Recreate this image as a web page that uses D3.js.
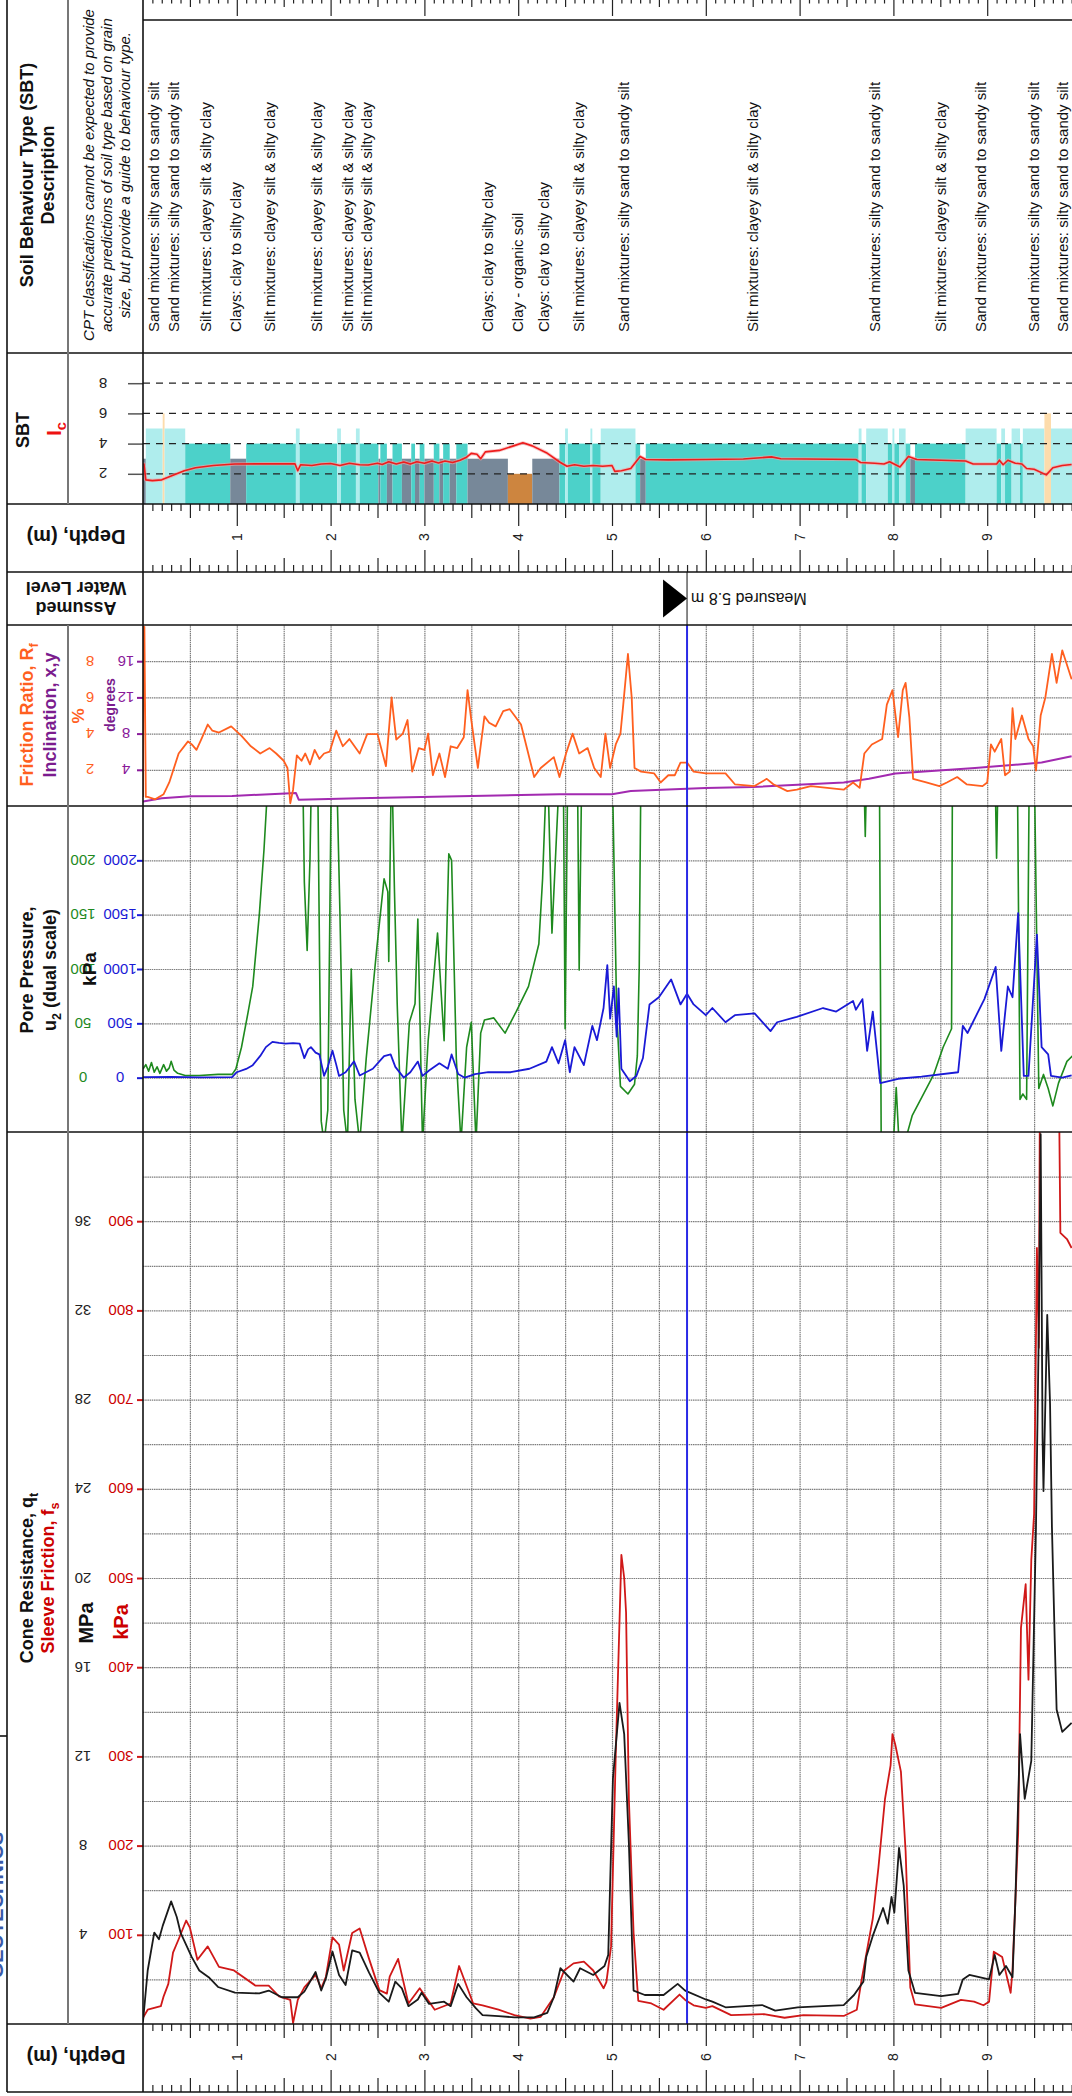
<!DOCTYPE html>
<html>
<head>
  <meta charset="utf-8">
  <title>CPT log</title>
  <script src="https://d3js.org/d3.v7.min.js"></script>
  <style>
    body { margin: 0; background: #fff; }
    svg { display: block; font-family: "Liberation Sans", Arial, sans-serif; }
    .grid line { stroke: #7c7c7c; stroke-width: 1.2; stroke-dasharray: 1.5 0.7; }
    .grid .domain { display: none; }
    .ruler line { stroke: #222; stroke-width: 1.2; }
    .ruler .domain { display: none; }
  </style>
</head>
<body>
<svg id="chart"></svg>
<script>
// ---- data (depth in m) ----
const depthTicks = [1, 2, 3, 4, 5, 6, 7, 8, 9];
const waterDepth = 5.8;

// SBT layers: [from, to, zone]
const sbtLayers = [
  [0, 0.03, 3], [0.03, 0.21, 5], [0.21, 0.23, 6], [0.23, 0.45, 5], [0.45, 0.93, 4], [0.93, 1.10, 3],
  [1.10, 1.63, 4], [1.63, 1.67, 5], [1.67, 2.07, 4], [2.07, 2.11, 5], [2.11, 2.27, 4], [2.27, 2.31, 5],
  [2.31, 2.51, 4], [2.51, 2.53, 3], [2.53, 2.60, 4], [2.60, 2.66, 3], [2.66, 2.76, 4], [2.76, 2.86, 3],
  [2.86, 2.90, 4], [2.90, 2.95, 3], [2.95, 3.00, 4], [3.00, 3.10, 3], [3.10, 3.16, 4], [3.16, 3.20, 3],
  [3.20, 3.27, 4], [3.27, 3.34, 3], [3.34, 3.46, 4], [3.46, 3.89, 3], [3.89, 4.15, 2], [4.15, 4.44, 3],
  [4.44, 4.50, 4], [4.50, 4.53, 5], [4.53, 4.77, 4], [4.77, 4.79, 5], [4.79, 4.88, 4], [4.88, 5.25, 5],
  [5.25, 5.30, 4], [5.30, 5.36, 3], [5.36, 7.63, 4], [7.63, 7.66, 5], [7.66, 7.71, 4], [7.71, 7.94, 5],
  [7.94, 7.99, 4], [7.99, 8.01, 5], [8.01, 8.06, 4], [8.06, 8.13, 5], [8.13, 8.18, 4], [8.18, 8.23, 3],
  [8.23, 8.77, 4], [8.77, 9.10, 5], [9.10, 9.15, 4], [9.15, 9.19, 5], [9.19, 9.26, 4], [9.26, 9.35, 5],
  [9.35, 9.38, 4], [9.38, 9.61, 5], [9.61, 9.68, 6], [9.68, 9.91, 5]
];
const sbtTicks = [2, 4, 6, 8];

const sandText = "Sand mixtures: silty sand to sandy silt";
const siltText = "Silt mixtures: clayey silt & silty clay";
const clayText = "Clays: clay to silty clay";
const sbtLabels = [
  [0.107, sandText], [0.33, sandText], [0.67, siltText], [0.99, clayText], [1.35, siltText],
  [1.855, siltText], [2.175, siltText], [2.38, siltText], [3.67, clayText], [3.99, "Clay - organic soil"],
  [4.275, clayText], [4.64, siltText], [5.12, sandText], [6.5, siltText], [7.8, sandText],
  [8.5, siltText], [8.93, sandText], [9.49, sandText], [9.80, sandText]
];

// Ic index
const ic = [
  [0, 2.6], [0.01, 2.65], [0.03, 1.6], [0.1, 1.55], [0.2, 1.6], [0.3, 1.85], [0.44, 2.2], [0.56, 2.4],
  [0.75, 2.55], [0.98, 2.65], [1.3, 2.66], [1.62, 2.67], [1.65, 2.2], [1.68, 2.6], [1.8, 2.55], [1.9, 2.65],
  [2.0, 2.68], [2.1, 2.55], [2.2, 2.7], [2.31, 2.6], [2.4, 2.58], [2.5, 2.7], [2.55, 2.62], [2.62, 2.8],
  [2.7, 2.65], [2.78, 2.78], [2.85, 2.65], [2.92, 2.8], [3.0, 2.7], [3.08, 2.85], [3.15, 2.72], [3.22, 2.85],
  [3.3, 2.75], [3.38, 2.9], [3.45, 3.1], [3.5, 3.35], [3.56, 3.3], [3.6, 3.0], [3.65, 3.45], [3.8, 3.55],
  [3.95, 3.85], [4.05, 4.05], [4.15, 3.85], [4.3, 3.4], [4.45, 2.75], [4.52, 2.5], [4.6, 2.6], [4.7, 2.5],
  [4.8, 2.55], [4.9, 2.5], [5.0, 2.55], [5.03, 2.16], [5.1, 2.2], [5.2, 2.35], [5.3, 3.15], [5.36, 2.95],
  [5.6, 2.92], [6.0, 2.95], [6.4, 2.98], [6.7, 3.12], [6.8, 3.0], [7.6, 2.95], [7.65, 2.75], [7.8, 2.7],
  [7.9, 2.65], [7.96, 2.8], [8.07, 2.45], [8.16, 3.15], [8.25, 2.95], [8.77, 2.85], [8.85, 2.65], [9.1, 2.65],
  [9.13, 2.9], [9.17, 2.6], [9.22, 2.9], [9.3, 2.7], [9.37, 2.65], [9.42, 2.35], [9.5, 2.3], [9.63, 1.93],
  [9.7, 2.4], [9.8, 2.55], [9.9, 2.62]
];

// friction ratio (%) and inclination (degrees)
const rfTicks = [2, 4, 6, 8];
const incTicks = [4, 8, 12, 16];
const rf = [
  [0, 0.5], [0.005, 9.9], [0.015, 9.9], [0.03, 0.5], [0.05, 0.5], [0.13, 0.37], [0.22, 0.65], [0.28, 1.3],
  [0.38, 2.9], [0.48, 3.57], [0.52, 3.4], [0.57, 3.1], [0.62, 3.67], [0.69, 4.5], [0.74, 4.16], [0.81, 4.06],
  [0.94, 4.4], [1.05, 3.87], [1.15, 3.3], [1.25, 2.9], [1.35, 3.2], [1.42, 2.9], [1.5, 2.5], [1.54, 2.1],
  [1.57, 0.15], [1.6, 0.9], [1.64, 2.8], [1.69, 2.5], [1.73, 2.9], [1.78, 2.3], [1.83, 3.1], [1.88, 2.6],
  [1.93, 2.9], [1.99, 3.0], [2.06, 4.16], [2.13, 3.3], [2.2, 3.7], [2.31, 2.9], [2.39, 3.97], [2.5, 3.97],
  [2.59, 2.2], [2.65, 6.0], [2.7, 3.67], [2.77, 4.0], [2.82, 4.75], [2.87, 1.9], [2.94, 3.2], [3.0, 3.1],
  [3.04, 4.0], [3.09, 1.7], [3.16, 2.9], [3.22, 1.6], [3.28, 3.3], [3.35, 3.2], [3.42, 3.8], [3.46, 6.4],
  [3.5, 4.75], [3.57, 2.1], [3.64, 4.95], [3.69, 4.6], [3.76, 4.4], [3.84, 5.24], [3.91, 5.35], [3.96, 5.0],
  [4.03, 4.5], [4.17, 1.6], [4.24, 2.1], [4.38, 2.7], [4.44, 1.6], [4.51, 2.9], [4.58, 4.0], [4.65, 2.9],
  [4.74, 3.2], [4.81, 2.1], [4.88, 1.6], [4.93, 4.0], [4.98, 2.1], [5.04, 3.4], [5.09, 4.0], [5.12, 5.6],
  [5.17, 8.4], [5.21, 6.0], [5.24, 2.1], [5.31, 1.9], [5.45, 1.8], [5.52, 1.3], [5.6, 1.7], [5.67, 1.7],
  [5.73, 2.4], [5.8, 2.4], [5.87, 1.9], [6.0, 1.8], [6.21, 1.8], [6.31, 1.2], [6.52, 1.1], [6.65, 1.5],
  [6.72, 1.2], [6.87, 0.82], [6.97, 0.9], [7.12, 1.1], [7.47, 0.9], [7.57, 1.3], [7.64, 1.0], [7.69, 2.9],
  [7.77, 3.4], [7.88, 3.7], [7.93, 5.6], [7.99, 6.4], [8.05, 3.8], [8.1, 6.4], [8.13, 6.8], [8.17, 4.9],
  [8.21, 1.5], [8.35, 1.3], [8.49, 1.1], [8.57, 1.3], [8.68, 1.6], [8.78, 1.2], [8.95, 1.1], [9.0, 1.3],
  [9.04, 3.4], [9.08, 3.0], [9.15, 3.7], [9.19, 1.7], [9.24, 1.9], [9.27, 5.4], [9.3, 3.7], [9.37, 5.0],
  [9.44, 3.7], [9.49, 3.3], [9.52, 1.95], [9.57, 5.0], [9.62, 6.0], [9.69, 8.4], [9.74, 6.8], [9.8, 8.6],
  [9.9, 7.0]
];
const incl = [
  [0, 0.5], [0.2, 0.85], [0.5, 1.07], [0.95, 1.1], [1.63, 1.45], [1.66, 0.7], [2.3, 0.85], [3.37, 1.07],
  [4.44, 1.3], [5.0, 1.3], [5.2, 1.65], [6.0, 2.0], [6.5, 2.1], [7.47, 2.6], [7.74, 3.0], [8.02, 3.6],
  [8.87, 4.2], [9.58, 4.8], [9.9, 5.5]
];

// pore pressure u2 (kPa): blue large scale, green small scale
const u2Ticks = [0, 500, 1000, 1500, 2000];
const u2SmallTicks = [0, 50, 100, 150, 200];
const u2 = [
  [0, 5], [0.3, 8], [0.6, 3], [0.95, 5], [1.0, 50], [1.1, 80], [1.17, 115], [1.25, 200], [1.31, 281],
  [1.38, 329], [1.45, 320], [1.52, 314], [1.6, 318], [1.67, 314], [1.72, 180], [1.76, 260], [1.79, 281],
  [1.84, 230], [1.88, 214], [1.93, 16], [1.97, 100], [2.02, 248], [2.06, 120], [2.09, 16], [2.16, 50],
  [2.25, 150], [2.31, 20], [2.45, 82], [2.57, 198], [2.64, 214], [2.69, 99], [2.78, 0], [2.85, 50],
  [2.93, 148], [2.98, 16], [3.05, 66], [3.16, 132], [3.25, 82], [3.29, 214], [3.36, 33], [3.43, 0],
  [3.54, 33], [3.68, 50], [3.92, 50], [4.12, 82], [4.3, 148], [4.36, 281], [4.43, 132], [4.5, 345],
  [4.55, 50], [4.6, 281], [4.7, 115], [4.79, 477], [4.84, 345], [4.91, 641], [4.95, 1036], [4.98, 543],
  [5.02, 839], [5.05, 378], [5.07, 822], [5.1, 82], [5.19, -33], [5.26, 16], [5.33, 181], [5.4, 674],
  [5.5, 740], [5.63, 904], [5.73, 674], [5.8, 773], [5.87, 674], [6.0, 575], [6.07, 641], [6.21, 510],
  [6.31, 575], [6.52, 592], [6.69, 428], [6.76, 510], [6.97, 560], [7.25, 641], [7.39, 608], [7.57, 706],
  [7.6, 625], [7.67, 723], [7.72, 247], [7.78, 608], [7.86, -50], [8.05, -10], [8.3, 10], [8.69, 50],
  [8.74, 477], [8.79, 411], [8.97, 723], [9.09, 1019], [9.15, 247], [9.22, 839], [9.27, 740], [9.33, 1515],
  [9.39, 16], [9.44, 16], [9.53, 1316], [9.58, 281], [9.65, 214], [9.68, 16], [9.8, 0], [9.9, 20]
];
const u2Small = [
  [0, 8], [0.03, 12], [0.06, 6], [0.09, 14], [0.12, 5], [0.15, 10], [0.18, 4], [0.22, 12], [0.25, 6],
  [0.28, 9], [0.3, 15], [0.33, 7], [0.37, 4], [0.45, 2], [0.6, 2], [0.8, 3], [0.95, 3], [0.99, 8],
  [1.05, 28], [1.12, 60], [1.17, 84], [1.24, 150], [1.29, 210], [1.33, 270], [1.70, 300], [1.72, 180],
  [1.75, 117], [1.78, 200], [1.80, 300], [1.86, 300], [1.90, -40], [1.93, -60], [1.97, -30], [2.01, 300],
  [2.06, 300], [2.10, 150], [2.14, -30], [2.18, -60], [2.22, 100], [2.26, -20], [2.31, -60], [2.38, 18],
  [2.49, 117], [2.57, 183], [2.61, 171], [2.62, 107], [2.65, 300], [2.68, 175], [2.71, 68], [2.76, -60],
  [2.84, 51], [2.9, 68], [2.93, 146], [2.98, -60], [3.04, 34], [3.14, 133], [3.21, 34], [3.26, 206],
  [3.29, 200], [3.34, 18], [3.39, -60], [3.45, 28], [3.5, 51], [3.55, -60], [3.6, 41], [3.64, 53],
  [3.74, 55], [3.86, 41], [3.98, 61], [4.11, 84], [4.22, 123], [4.26, 183], [4.31, 300], [4.36, 133],
  [4.4, 207], [4.45, 300], [4.48, 300], [4.5, 45], [4.53, 300], [4.63, 300], [4.65, 99], [4.68, 300],
  [5.0, 300], [5.05, 60], [5.09, -8], [5.17, -15], [5.24, -6], [5.27, 20], [5.29, 100], [5.31, 300],
  [7.68, 300], [7.70, 222], [7.72, 300], [7.85, 300], [7.87, -60], [8.0, -60], [8.03, -9], [8.06, -60],
  [8.12, -60], [8.2, -35], [8.4, -2], [8.43, 3], [8.53, 28], [8.62, 45], [8.63, 300], [9.08, 300],
  [9.10, 202], [9.12, 300], [9.32, 300], [9.35, -20], [9.38, -15], [9.42, -20], [9.45, 300], [9.5, 300],
  [9.55, -10], [9.6, 3], [9.65, -10], [9.7, -26], [9.76, -5], [9.85, 15], [9.91, 20]
];

// cone resistance qt (MPa) and sleeve friction fs (kPa)
const qtTicks = [4, 8, 12, 16, 20, 24, 28, 32, 36];
const fsTicks = [100, 200, 300, 400, 500, 600, 700, 800, 900];
const qt = [
  [0, 0.1], [0.05, 2.4], [0.12, 4.1], [0.17, 3.8], [0.21, 4.4], [0.3, 5.5], [0.36, 4.8], [0.4, 4.1],
  [0.52, 3.0], [0.6, 2.4], [0.7, 2.1], [0.8, 1.66], [0.98, 1.41], [1.24, 1.37], [1.34, 1.5], [1.48, 1.2],
  [1.65, 1.2], [1.72, 1.45], [1.84, 2.33], [1.9, 1.5], [1.95, 2.05], [2.02, 3.25], [2.09, 2.2], [2.16, 1.75],
  [2.23, 3.3], [2.31, 3.2], [2.41, 2.3], [2.52, 1.4], [2.62, 1.0], [2.69, 1.9], [2.76, 1.6], [2.83, 0.8],
  [2.93, 1.1], [2.97, 1.4], [3.05, 0.9], [3.21, 1.0], [3.28, 0.8], [3.36, 1.8], [3.45, 1.2], [3.55, 0.7],
  [3.62, 0.4], [3.79, 0.35], [3.96, 0.3], [4.17, 0.3], [4.31, 0.5], [4.38, 1.2], [4.45, 2.5], [4.59, 1.9],
  [4.66, 2.5], [4.8, 2.2], [4.92, 2.6], [4.96, 3.1], [5.01, 11.0], [5.08, 14.4], [5.13, 13.0], [5.18, 8.1],
  [5.23, 1.5], [5.35, 1.3], [5.55, 1.3], [5.7, 1.8], [5.78, 1.5], [6.0, 1.1], [6.07, 1.0], [6.21, 0.75],
  [6.6, 0.85], [6.74, 0.6], [6.98, 0.75], [7.47, 0.85], [7.58, 1.3], [7.68, 1.9], [7.71, 3.0], [7.78, 3.95],
  [7.89, 5.2], [7.94, 4.5], [7.98, 5.7], [8.01, 5.0], [8.06, 7.9], [8.11, 6.2], [8.16, 2.4], [8.23, 1.4],
  [8.51, 1.25], [8.69, 1.35], [8.74, 2.0], [8.81, 2.2], [9.02, 2.0], [9.08, 3.1], [9.13, 2.2], [9.2, 2.6],
  [9.27, 2.1], [9.3, 5.5], [9.35, 13.0], [9.4, 10.1], [9.47, 11.8], [9.52, 22.3], [9.55, 31.1], [9.57, 39.9],
  [9.59, 26.3], [9.6, 23.9], [9.64, 31.8], [9.67, 27.8], [9.69, 22.3], [9.72, 17.2], [9.74, 14.1], [9.8, 13.1],
  [9.9, 13.5]
];
const fs = [
  [0, 7], [0.05, 16], [0.19, 20], [0.22, 31], [0.27, 45], [0.32, 80], [0.38, 95], [0.46, 116], [0.5, 108],
  [0.58, 72], [0.69, 87], [0.81, 64], [0.97, 60], [1.2, 43], [1.34, 43], [1.45, 31], [1.57, 27], [1.6, 1],
  [1.65, 27], [1.72, 41], [1.84, 55], [1.9, 40], [1.95, 53], [2.02, 97], [2.09, 89], [2.14, 60], [2.23, 102],
  [2.31, 107], [2.41, 73], [2.52, 38], [2.6, 34], [2.63, 53], [2.72, 73], [2.83, 23], [2.95, 40], [3.11, 16],
  [3.28, 23], [3.37, 65], [3.52, 23], [3.62, 21], [3.79, 16], [3.96, 10], [4.13, 6], [4.24, 8], [4.38, 30],
  [4.49, 60], [4.59, 68], [4.7, 70], [4.8, 60], [4.91, 40], [4.94, 47], [4.99, 87], [5.04, 302], [5.1, 526],
  [5.13, 500], [5.15, 461], [5.18, 252], [5.23, 102], [5.28, 26], [5.42, 23], [5.55, 16], [5.72, 33],
  [5.78, 27], [5.87, 21], [6.0, 18], [6.07, 20], [6.27, 10], [6.62, 11], [6.84, 7], [7.04, 10], [7.47, 9],
  [7.61, 16], [7.66, 49], [7.78, 118], [7.84, 175], [7.91, 252], [7.97, 290], [7.99, 325], [8.02, 313],
  [8.08, 283], [8.13, 194], [8.18, 41], [8.23, 22], [8.51, 18], [8.72, 27], [8.86, 25], [8.96, 21],
  [9.02, 25], [9.07, 81], [9.16, 75], [9.25, 35], [9.27, 61], [9.33, 214], [9.36, 444], [9.41, 493],
  [9.44, 386], [9.47, 520], [9.5, 572], [9.53, 870], [9.55, 758], [9.56, 1000], [9.58, 1100], [9.76, 1100],
  [9.78, 887], [9.85, 880], [9.9, 870]
];

// ---- layout ----
const width = 1072, height = 2096;
const colLeft = 7, colMid = 68, plotLeft = 143;
const rows = {
  desc: [20, 353], sbt: [353, 504], depthA: [504, 572], water: [572, 625],
  fric: [625, 806], pore: [806, 1132], cone: [1132, 2024], depthB: [2024, 2092]
};

const svg = d3.select("#chart").attr("width", width).attr("height", height);
const defs = svg.append("defs");

const x = d3.scaleLinear().domain([0, 9.904]).range([plotLeft, width]);
const ySbt = d3.scaleLinear().domain([0, 10]).range(rows.sbt.slice().reverse());
const yRf = d3.scaleLinear().domain([0, 10]).range(rows.fric.slice().reverse());
const yInc = d3.scaleLinear().domain([0, 20]).range(rows.fric.slice().reverse());
const yU = d3.scaleLinear().domain([-500, 2500]).range(rows.pore.slice().reverse());
const yUs = d3.scaleLinear().domain([-50, 250]).range(rows.pore.slice().reverse());
const yFs = d3.scaleLinear().domain([0, 1000]).range(rows.cone.slice().reverse());
const yQt = d3.scaleLinear().domain([0, 40]).range(rows.cone.slice().reverse());

const zoneColor = d3.scaleOrdinal()
  .domain([2, 3, 4, 5, 6])
  .range(["#cd853f", "#778899", "#4cd1c9", "#afeded", "#fddcac"]);

// clip paths for each plot panel
Object.entries(rows).forEach(([k, r]) => {
  defs.append("clipPath").attr("id", "clip-" + k)
    .append("rect").attr("x", plotLeft).attr("y", r[0])
    .attr("width", width - plotLeft).attr("height", r[1] - r[0]);
});

// rotated text helper
function label(g, cx, cy, angle, str, opts = {}) {
  const t = g.append("text")
    .attr("transform", `translate(${cx},${cy}) rotate(${angle})`)
    .attr("text-anchor", opts.anchor || "middle")
    .attr("dominant-baseline", "central")
    .attr("font-size", opts.size || 14)
    .attr("font-weight", opts.weight || "normal")
    .attr("font-style", opts.style || "normal")
    .attr("fill", opts.fill || "#111");
  if (Array.isArray(str)) {
    str.forEach(([s, sub]) => {
      const ts = t.append("tspan").text(s);
      if (sub) ts.attr("baseline-shift", "sub").attr("font-size", (opts.size || 14) * 0.7);
    });
  } else {
    t.text(str);
  }
  return t;
}

// ---- grid lines ----
const halfMetres = d3.range(1, 20).map(i => i / 2);
function vGrid(r) {
  svg.append("g").attr("class", "grid")
    .attr("transform", `translate(0,${r[1]})`)
    .call(d3.axisBottom(x).tickValues(halfMetres).tickSize(-(r[1] - r[0])).tickFormat(""));
}
function hGrid(scale, values) {
  svg.append("g").attr("class", "grid")
    .attr("transform", `translate(${plotLeft},0)`)
    .call(d3.axisLeft(scale).tickValues(values).tickSize(-(width - plotLeft)).tickFormat(""));
}
vGrid(rows.fric); vGrid(rows.pore); vGrid(rows.cone);
hGrid(yInc, incTicks);
hGrid(yU, u2Ticks);
hGrid(yFs, d3.range(50, 1000, 50));

// ---- SBT bars ----
const sbtG = svg.append("g").attr("clip-path", "url(#clip-sbt)");
sbtG.selectAll("rect").data(sbtLayers).join("rect")
  .attr("x", d => x(d[0]))
  .attr("width", d => Math.max(1, x(d[1]) - x(d[0])))
  .attr("y", d => ySbt(d[2]))
  .attr("height", d => ySbt(0) - ySbt(d[2]))
  .attr("fill", d => zoneColor(d[2]));

// dashed Ic reference lines and ticks
sbtTicks.forEach(v => {
  svg.append("line").attr("x1", plotLeft).attr("x2", width)
    .attr("y1", ySbt(v)).attr("y2", ySbt(v))
    .attr("stroke", "#222").attr("stroke-width", 1.2).attr("stroke-dasharray", "7 6");
});
svg.append("g").attr("transform", `translate(${plotLeft},0)`)
  .call(d3.axisLeft(ySbt).tickValues(sbtTicks).tickSize(15).tickFormat(""))
  .call(g => g.select(".domain").remove())
  .call(g => g.selectAll("line").attr("stroke", "#555").attr("stroke-width", 1.5));
sbtTicks.forEach(v => label(svg, 103, ySbt(v), 180, v, { size: 15, fill: "#222" }));

const line = yScale => d3.line().x(d => x(d[0])).y(d => yScale(d[1]));
function drawCurve(data, yScale, clip, color, w) {
  return svg.append("path").datum(data)
    .attr("clip-path", `url(#clip-${clip})`)
    .attr("fill", "none").attr("stroke", color).attr("stroke-width", w)
    .attr("stroke-linejoin", "round")
    .attr("d", line(yScale));
}
drawCurve(ic, ySbt, "sbt", "#f7a3a3", 3.5).attr("opacity", 0.6);
drawCurve(ic, ySbt, "sbt", "#ee1c1c", 1.6);

// SBT descriptions
sbtLabels.forEach(([d, s]) => label(svg, x(d), 332, -90, s, { anchor: "start", size: 15 }));

// ---- friction ratio / inclination ----
drawCurve(incl, yInc, "fric", "#a22ab0", 2);
drawCurve(rf, yRf, "fric", "#ff5f1f", 1.8);
svg.append("g").attr("transform", `translate(${plotLeft},0)`)
  .call(d3.axisLeft(yInc).tickValues(incTicks).tickSize(6).tickFormat(""))
  .call(g => g.select(".domain").remove())
  .call(g => g.selectAll("line").attr("stroke", "#8a1a9a").attr("stroke-width", 2));
rfTicks.forEach(v => label(svg, 90, yRf(v), 180, v, { size: 15, fill: "#ff5f1f" }));
incTicks.forEach(v => label(svg, 126, yInc(v), 180, v, { size: 15, fill: "#8a1a9a" }));

// ---- pore pressure ----
drawCurve(u2Small, yUs, "pore", "#1e8a1e", 1.6);
drawCurve(u2, yU, "pore", "#1a1ad6", 1.8);
svg.append("g").attr("transform", `translate(${plotLeft},0)`)
  .call(d3.axisLeft(yU).tickValues(u2Ticks).tickSize(6).tickFormat(""))
  .call(g => g.select(".domain").remove())
  .call(g => g.selectAll("line").attr("stroke", "#1a1ad6").attr("stroke-width", 2));
u2Ticks.forEach(v => label(svg, 120, yU(v), 180, v, { size: 15, fill: "#1a1ad6" }));
u2SmallTicks.forEach(v => label(svg, 83, yUs(v), 180, v, { size: 15, fill: "#1e8a1e" }));

// ---- cone resistance / sleeve friction ----
drawCurve(fs, yFs, "cone", "#d01818", 1.8);
drawCurve(qt, yQt, "cone", "#1a1a1a", 1.8);
svg.append("g").attr("transform", `translate(${plotLeft},0)`)
  .call(d3.axisLeft(yFs).tickValues(fsTicks).tickSize(6).tickFormat(""))
  .call(g => g.select(".domain").remove())
  .call(g => g.selectAll("line").attr("stroke", "#d01818").attr("stroke-width", 2));
fsTicks.forEach(v => label(svg, 121, yFs(v), 180, v, { size: 15, fill: "#cc0000" }));
qtTicks.forEach(v => label(svg, 83, yQt(v), 180, v, { size: 15, fill: "#222" }));

// ---- water level ----
const xw = x(waterDepth);
svg.append("line").attr("x1", xw).attr("x2", xw).attr("y1", rows.fric[0]).attr("y2", rows.cone[1])
  .attr("stroke", "#2a2ae6").attr("stroke-width", 2);
svg.append("line").attr("x1", xw).attr("x2", xw).attr("y1", rows.water[0]).attr("y2", rows.water[1])
  .attr("stroke", "#111").attr("stroke-width", 1);
const wy = (rows.water[0] + rows.water[1]) / 2;
svg.append("path")
  .attr("d", `M${xw},${wy}L${xw - 24},${wy - 19}L${xw - 24},${wy + 19}Z`)
  .attr("fill", "#000");
label(svg, xw + 4, wy, 180, "Measured " + waterDepth + " m", { anchor: "end", size: 16 });

// ---- depth rulers ----
const tenths = d3.range(1, 100).map(i => i / 10);
const minorT = tenths.filter((d, i) => (i + 1) % 5 !== 0);
const halfT = tenths.filter((d, i) => (i + 1) % 10 === 5);
const metreT = tenths.filter((d, i) => (i + 1) % 10 === 0);
function ruler(yTop, yBot, sizes) {
  [[minorT, sizes[0]], [halfT, sizes[1]], [metreT, sizes[2]]].forEach(([vals, s]) => {
    if (yTop !== null) {
      svg.append("g").attr("class", "ruler").attr("transform", `translate(0,${yTop})`)
        .call(d3.axisBottom(x).tickValues(vals).tickSize(s).tickFormat(""));
    }
    if (yBot !== null) {
      svg.append("g").attr("class", "ruler").attr("transform", `translate(0,${yBot})`)
        .call(d3.axisTop(x).tickValues(vals).tickSize(s).tickFormat(""));
    }
  });
}
ruler(0, null, [3.5, 7, 16]);
ruler(rows.depthA[0], rows.depthA[1], [7, 14, 22]);
ruler(rows.depthB[0], rows.depthB[1], [7, 14, 22]);
depthTicks.forEach(d => {
  label(svg, x(d), 537, -90, d, { size: 14, fill: "#222" });
  label(svg, x(d), 2057, -90, d, { size: 14, fill: "#222" });
});

// ---- frame ----
const frame = svg.append("g").attr("stroke", "#111").attr("stroke-width", 1.6);
frame.append("line").attr("x1", plotLeft).attr("x2", width).attr("y1", 20).attr("y2", 20);
[353, 504, 572, 625, 806, 1132, 2024, 2092].forEach(y => {
  frame.append("line").attr("x1", colLeft).attr("x2", width).attr("y1", y).attr("y2", y);
});
frame.append("line").attr("x1", colLeft).attr("x2", colLeft).attr("y1", 0).attr("y2", 2092);
frame.append("line").attr("x1", plotLeft).attr("x2", plotLeft).attr("y1", 0).attr("y2", 2092);
frame.append("line").attr("x1", 0).attr("x2", colLeft).attr("y1", 1736).attr("y2", 1736);
const inner = svg.append("g").attr("stroke", "#777").attr("stroke-width", 2);
inner.append("line").attr("x1", colMid).attr("x2", colMid).attr("y1", 0).attr("y2", 504);
inner.append("line").attr("x1", colMid).attr("x2", colMid).attr("y1", 625).attr("y2", 2024);

// cut-off logo text at the left edge
label(svg, -4, 1905, -90, "GEOTECHNICS", { size: 20, weight: "bold", fill: "#3a5aa8" });

// ---- header texts ----
label(svg, 27, 175, -90, "Soil Behaviour Type  (SBT)", { size: 18, weight: "bold" });
label(svg, 48, 175, -90, "Description", { size: 18, weight: "bold" });
label(svg, 88, 175, -90, "CPT classifications cannot be expected to provide", { size: 15, style: "italic" });
label(svg, 106, 175, -90, "accurate predictions of soil type based on grain", { size: 15, style: "italic" });
label(svg, 124, 175, -90, "size, but provide a guide to behaviour type.", { size: 15, style: "italic" });

label(svg, 23, 430, -90, "SBT", { size: 18, weight: "bold" });
label(svg, 53, 429, -90, [["I"], ["c", true]], { size: 21, weight: "bold", fill: "#ee1111" });

label(svg, 76, 537, 180, "Depth, (m)", { size: 20, weight: "bold" });
label(svg, 76, 2057, 180, "Depth, (m)", { size: 20, weight: "bold" });
label(svg, 76, 588, 180, "Water Level", { size: 18, weight: "bold" });
label(svg, 76, 608, 180, "Assumed", { size: 18, weight: "bold" });

label(svg, 27, 715, -90, [["Friction Ratio, R"], ["f", true]], { size: 18, weight: "bold", fill: "#ff5f1f" });
label(svg, 50, 715, -90, "Inclination, x,y", { size: 18, weight: "bold", fill: "#7b1c8e" });
label(svg, 78, 716, -90, "%", { size: 17, weight: "bold", fill: "#ff5f1f" });
label(svg, 110, 705, -90, "degrees", { size: 14, weight: "bold", fill: "#7b1c8e" });

label(svg, 27, 970, -90, "Pore Pressure,", { size: 18, weight: "bold" });
label(svg, 50, 970, -90, [["u"], ["2", true], [" (dual scale)"]], { size: 18, weight: "bold" });
label(svg, 89, 969, -90, "kPa", { size: 19, weight: "bold" });

label(svg, 27, 1578, -90, [["Cone Resistance, q"], ["t", true]], { size: 18, weight: "bold" });
label(svg, 48, 1578, -90, [["Sleeve Friction, f"], ["s", true]], { size: 18, weight: "bold", fill: "#cc0000" });
label(svg, 86, 1623, -90, "MPa", { size: 20, weight: "bold" });
label(svg, 121, 1622, -90, "kPa", { size: 20, weight: "bold", fill: "#cc0000" });
</script>
</body>
</html>
